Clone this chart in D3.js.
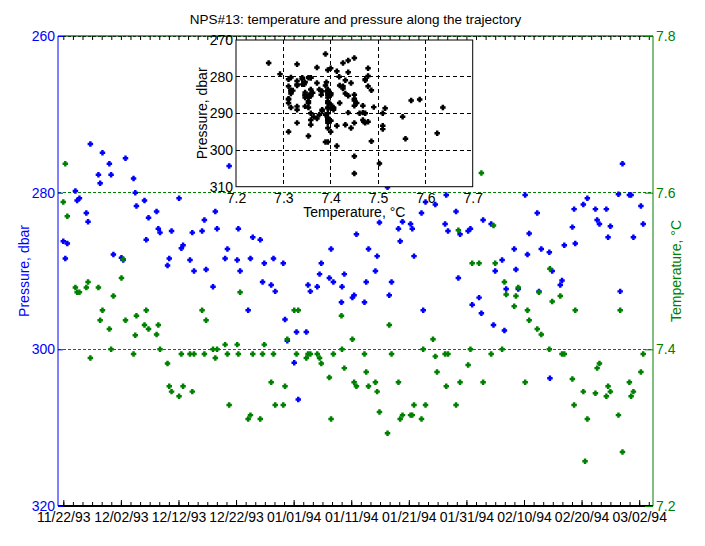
<!DOCTYPE html>
<html><head><meta charset="utf-8">
<script src="https://cdn.jsdelivr.net/npm/d3@7"></script>
<style>
body{margin:0;background:#fff;}
svg{display:block;}
text{font-family:"Liberation Sans Narrow","Liberation Sans",Arial,sans-serif;}
</style></head><body>
<svg id="c" width="705" height="546"></svg>
<script>
// ---- data: days after 11/22/93 00:00, pressure (dbar), temperature (°C) ----
const startDate = Date.UTC(1993, 10, 22);
const days = [
 0.0,0.35,0.7, 2.1,2.4,2.8, 4.0,4.3,4.7, 6.1,6.4,6.8, 8.0,8.3,8.7, 10.1,10.4,10.8,
 12.2,12.5,12.7, 14.1,14.4,14.8, 16.2,16.5,16.8, 18.1,18.4,18.8, 20.1,20.5,20.8,
 22.0,22.4,22.7, 24.1,24.5,24.8,
 26.0,26.4,26.7, 28.1,28.5,28.8, 30.2,30.4,30.7, 32.1,32.5,32.9, 34.2,34.6,34.9,
 36.1,36.5,36.8, 38.2,38.5,38.9, 40.1,40.5,40.8, 42.2,42.5,42.9, 44.1,44.5,44.8,
 46.2,46.5,46.9, 48.3,48.4,48.8, 50.2,50.5,50.9,
 52.3,52.6,53.0, 54.2,54.5,54.9, 56.3,56.6,57.0, 58.2,58.5,58.9, 60.3,60.6,60.9,
 62.2,62.5,62.9, 64.2,64.6,64.9, 66.3,66.5,66.8, 68.2,68.6,68.9, 70.3,70.7,71.0,
 72.2,72.6,72.9, 74.3,74.7,75.0, 76.2,76.6,76.9,
 78.3,78.6,79.0, 80.2,80.6,80.9, 82.3,82.6,83.0, 84.4,84.5,84.9, 86.3,86.6,87.0,
 88.4,88.7,88.9, 90.3,90.6,91.0, 92.4,92.7,93.1, 94.3,94.6,95.0, 96.4,96.7,97.1,
 98.3,98.6,99.0, 100.3,100.7
];
const pressure = [
 286.2,288.4,286.5, 279.8,281.0,280.7, 282.6,283.7,273.8, 277.7,278.8,274.9, 276.3,277.7,287.9, 288.3,288.6,275.6,
 278.2,280.0,281.7, 281.0,286.0,283.2, 282.4,284.6,285.1, 289.3,288.4,284.9, 280.7,287.1,286.7,
 288.6,285.1,290.0, 284.9,283.5,289.8,
 292.0,282.4,284.6, 288.4,287.2,276.6, 288.6,284.6,290.0, 295.0,288.4,285.7, 286.0,291.4,289.0,
 291.8,288.4,292.6, 289.0,296.2,298.9, 301.7,297.8,306.4, 297.8,291.8,292.6, 292.0,290.4,289.0,
 290.9,287.2,291.4, 294.0,292.0,290.4, 293.4,293.1,285.3,
 294.0,291.4,287.2, 290.0,288.1,283.8, 279.3,293.1,291.4, 284.6,286.2,283.7, 284.0,284.6,288.1,
 282.6,295.0,281.2, 278.5,281.5,277.5, 284.0,280.3,284.9, 282.4,290.9,285.3, 284.9,284.6,294.3,
 293.4,295.4,283.5, 284.0,296.9,290.0, 288.6,297.6,292.3,
 287.2,289.8,292.3, 280.3,287.9,285.2, 282.6,292.6,287.2, 287.6,303.7,290.0, 291.8,291.2,286.7,
 284.4,282.1,286.5, 281.5,null,280.7, 282.1,283.5,284.0, 282.1,285.7,284.3, 280.2,292.6,276.3,
 280.3,280.3,285.7, 281.7,284.0
];
const temperature = [
 7.588,7.637,7.570, 7.479,7.473,7.473, 7.479,7.486,7.389, 7.479,7.437,7.450, 7.426,7.400,7.468, 7.491,7.515,7.437,
 7.394,7.418,7.443, 7.431,7.450,7.426, 7.419,7.431,7.400, 7.382,7.353,7.346, 7.340,7.394,7.353,
 7.394,7.346,7.394, 7.450,7.394,7.437,
 7.400,7.389,7.400, 7.406,7.394,7.329, 7.406,7.394,7.473, 7.311,7.316,7.394, 7.311,7.394,7.406,
 7.358,7.394,7.329, 7.329,7.353,7.413, 7.450,7.394,7.450, 7.389,7.394,7.394, 7.394,7.389,7.382,
 7.364,7.311,7.394, 7.443,7.400,7.376, 7.413,7.358,7.353,
 7.394,7.371,7.353, 7.358,7.346,7.320, 7.293,7.431,7.394, 7.358,7.311,7.316, 7.316,7.316,7.329,
 7.311,7.400,7.329, 7.413,7.391,7.371, 7.394,7.353,7.394, 7.329,7.552,7.358, 7.380,7.400,7.510,
 7.510,7.625,7.358, 7.394,7.558,7.510, 7.400,7.486,7.470,
 7.455,7.468,7.479, 7.358,7.450,7.437, 7.426,7.473,7.419, 7.400,7.503,7.461, 7.468,7.394,7.394,
 7.362,7.329,7.450, 7.346,7.257,7.311, 7.344,7.376,7.382, 7.340,7.353,7.346, 7.316,7.450,7.269,
 7.358,7.340,7.346, 7.371,7.394
];
const xLabelDays = [0,10,20,30,40,50,60,70,80,90,100];
const pressureTicks = [260,280,300,320];
const temperatureTicks = [7.2,7.4,7.6,7.8];
const insetTempTicks = [7.2,7.3,7.4,7.5,7.6,7.7];
const insetPresTicks = [270,280,290,300,310];

const BLUE = "#0000ff", GREEN = "#008000";
const svg = d3.select("#c");
const L = 58, R = 653, T = 36, B = 506;
const toDate = d => new Date(startDate + d * 864e5);

const x = d3.scaleUtc().domain([toDate(-0.92), toDate(102.4)]).range([L, R]);
const yP = d3.scaleLinear().domain([260, 320]).range([T, B]);
const yT = d3.scaleLinear().domain([7.2, 7.8]).range([B, T]);

const data = days.map((d, i) => ({date: toDate(d), p: pressure[i], t: temperature[i]}));
// small filled "plus-diamond" marker like the MATLAB point marker
const plusDiamond = {draw(ctx, size) {
  const r = Math.sqrt(size) / 2;
  const a = r * 0.45;
  ctx.moveTo(-a, -r); ctx.lineTo(a, -r); ctx.lineTo(a, -a); ctx.lineTo(r, -a);
  ctx.lineTo(r, a); ctx.lineTo(a, a); ctx.lineTo(a, r); ctx.lineTo(-a, r);
  ctx.lineTo(-a, a); ctx.lineTo(-r, a); ctx.lineTo(-r, -a); ctx.lineTo(-a, -a); ctx.closePath();
  const b = r * 0.75;
  ctx.moveTo(0, -b); ctx.lineTo(b, 0); ctx.lineTo(0, b); ctx.lineTo(-b, 0); ctx.closePath();
}};
const marker = d3.symbol(plusDiamond, 30);

// title
svg.append("text").attr("x", (L + R) / 2).attr("y", 24).attr("text-anchor", "middle")
  .attr("font-size", 13.5).text("NPS#13: temperature and pressure along the trajectory");

// grid (temperature axis)
svg.append("g").selectAll("line").data(temperatureTicks.filter(t => t > 7.2)).join("line")
  .attr("x1", L).attr("x2", R).attr("y1", d => yT(d)).attr("y2", d => yT(d))
  .attr("stroke", GREEN).attr("stroke-dasharray", "3,2").attr("shape-rendering", "crispEdges");

// points
svg.append("g").selectAll("path").data(data.filter(d => d.p != null)).join("path")
  .attr("d", marker).attr("fill", BLUE)
  .attr("transform", d => `translate(${x(d.date)},${yP(d.p)})`);
svg.append("g").selectAll("path").data(data).join("path")
  .attr("d", marker).attr("fill", GREEN)
  .attr("transform", d => `translate(${x(d.date)},${yT(d.t)})`);

// x axes (bottom + mirrored top)
const minorDays = d3.range(0, 62).map(k => k * 10 / 6).filter(d => d < 102.4);
function xTicks(g, gen) {
  g.call(gen); g.select(".domain").remove();
  g.selectAll("line").attr("stroke", "#000");
}
svg.append("g").attr("transform", `translate(0,${B})`)
  .call(g => xTicks(g, d3.axisBottom(x).tickValues(minorDays.map(toDate)).tickSize(-4).tickFormat("")));
svg.append("g").attr("transform", `translate(0,${T})`)
  .call(g => xTicks(g, d3.axisTop(x).tickValues(minorDays.map(toDate)).tickSize(-4).tickFormat("")));
const xl = svg.append("g").attr("transform", `translate(0,${B})`);
xl.call(d3.axisBottom(x).tickValues(xLabelDays.map(toDate)).tickSize(-6).tickPadding(6)
  .tickFormat(d3.utcFormat("%m/%d/%y")));
xl.select(".domain").remove();
xl.selectAll("line").attr("stroke", "#000");
xl.selectAll("text").attr("fill", "#000").attr("font-size", 14).attr("font-family", null);

svg.append("line").attr("x1", L).attr("x2", R).attr("y1", T).attr("y2", T).attr("stroke", "#000");
svg.append("line").attr("x1", L).attr("x2", R).attr("y1", B).attr("y2", B).attr("stroke", "#000").attr("stroke-width", 2);

// left (pressure) axis
const la = svg.append("g").attr("transform", `translate(${L},0)`);
la.call(d3.axisLeft(yP).tickValues(pressureTicks).tickSize(-5).tickPadding(3));
la.select(".domain").remove();
la.selectAll("line").attr("stroke", BLUE);
la.selectAll("text").attr("fill", BLUE).attr("font-size", 14).attr("font-family", null);
svg.append("line").attr("x1", L).attr("x2", L).attr("y1", T).attr("y2", B).attr("stroke", BLUE);

// right (temperature) axis
const ra = svg.append("g").attr("transform", `translate(${R},0)`);
ra.call(d3.axisRight(yT).tickValues(temperatureTicks).tickSize(-8).tickPadding(3).tickFormat(d3.format(".1f")));
ra.select(".domain").remove();
ra.selectAll("line").attr("stroke", GREEN);
ra.selectAll("text").attr("fill", GREEN).attr("font-size", 14).attr("font-family", null);
svg.append("line").attr("x1", R).attr("x2", R).attr("y1", T).attr("y2", B).attr("stroke", GREEN);

// axis titles
svg.append("text").attr("transform", `translate(29,271) rotate(-90)`).attr("text-anchor", "middle")
  .attr("fill", BLUE).attr("font-size", 14).text("Pressure, dbar");
svg.append("text").attr("transform", `translate(681,271) rotate(-90)`).attr("text-anchor", "middle")
  .attr("fill", GREEN).attr("font-size", 14).text("Temperature, °C");

// ---- inset: temperature vs pressure ----
const IL = 236, IR = 472.7, IT = 40, IB = 186.7;
const ix = d3.scaleLinear().domain([7.2, 7.7]).range([IL, IR]);
const iy = d3.scaleLinear().domain([270, 310]).range([IT, IB]);
const inset = svg.append("g");
inset.append("rect").attr("x", IL).attr("y", IT).attr("width", IR - IL).attr("height", IB - IT).attr("fill", "#fff");
inset.append("g").selectAll("line").data(insetTempTicks.slice(1, -1)).join("line")
  .attr("x1", d => ix(d)).attr("x2", d => ix(d)).attr("y1", IT).attr("y2", IB)
  .attr("stroke", "#000").attr("stroke-dasharray", "4,3").attr("shape-rendering", "crispEdges");
inset.append("g").selectAll("line").data(insetPresTicks.slice(1, -1)).join("line")
  .attr("x1", IL).attr("x2", IR).attr("y1", d => iy(d)).attr("y2", d => iy(d))
  .attr("stroke", "#000").attr("stroke-dasharray", "4,3").attr("shape-rendering", "crispEdges");
inset.append("g").selectAll("path").data(data.filter(d => d.p != null && d.p >= 270 && d.p <= 310)).join("path")
  .attr("d", marker).attr("fill", "#000")
  .attr("transform", d => `translate(${ix(d.t)},${iy(d.p)})`);
inset.append("rect").attr("x", IL).attr("y", IT).attr("width", IR - IL).attr("height", IB - IT)
  .attr("fill", "none").attr("stroke", "#000");
const ixa = inset.append("g").attr("transform", `translate(0,${IB})`);
ixa.call(d3.axisBottom(ix).tickValues(insetTempTicks).tickSize(0).tickPadding(6).tickFormat(d3.format(".1f")));
ixa.select(".domain").remove();
ixa.selectAll("text").attr("fill", "#000").attr("font-size", 14).attr("font-family", null);
const iya = inset.append("g").attr("transform", `translate(${IL},0)`);
iya.call(d3.axisLeft(iy).tickValues(insetPresTicks).tickSize(0).tickPadding(3));
iya.select(".domain").remove();
iya.selectAll("text").attr("fill", "#000").attr("font-size", 14).attr("font-family", null);
inset.append("text").attr("x", (IL + IR) / 2).attr("y", 217).attr("text-anchor", "middle")
  .attr("font-size", 14).text("Temperature, °C");
inset.append("text").attr("transform", `translate(207,${(IT + IB) / 2}) rotate(-90)`).attr("text-anchor", "middle")
  .attr("font-size", 14).text("Pressure, dbar");
</script>
</body></html>
